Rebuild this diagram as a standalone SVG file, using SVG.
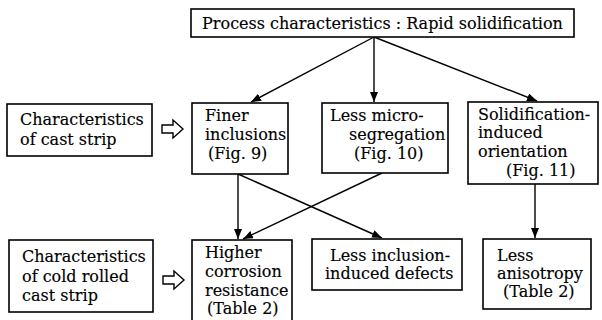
<svg xmlns="http://www.w3.org/2000/svg" width="602" height="320" viewBox="0 0 602 320">
  <style>
    .box { fill: #fff; stroke: #000; stroke-width: 1.6; }
    .t { font-family: "DejaVu Serif", "Liberation Serif", serif; font-size: 16px; fill: #000; stroke: #000; stroke-width: 0.15; }
    .c { text-anchor: middle; }
    .link { fill: none; stroke: #000; stroke-width: 1.4; marker-end: url(#tip); }
    .hollow { fill: #fff; stroke: #000; stroke-width: 1.4; stroke-linejoin: miter; }
  </style>
  <defs>
    <marker id="tip" viewBox="0 0 10 8" refX="10" refY="4" markerWidth="10" markerHeight="8" markerUnits="userSpaceOnUse" orient="auto">
      <path d="M0,0 L10,4 L0,8 Z" fill="#000"/>
    </marker>
  </defs>
  <rect width="602" height="320" fill="#fff"/>

  <g id="connectors">
    <line class="link" x1="374" y1="37" x2="251" y2="102"/>
    <line class="link" x1="374" y1="37" x2="374" y2="102"/>
    <line class="link" x1="374" y1="37" x2="537" y2="101"/>
    <line class="link" x1="238" y1="174" x2="238" y2="239"/>
    <line class="link" x1="238" y1="174" x2="382" y2="238"/>
    <line class="link" x1="382" y1="173" x2="243" y2="239"/>
    <line class="link" x1="535" y1="184" x2="535" y2="238"/>
    <path class="hollow" d="M162,125 H173 V120 L183,129 L173,138 V133 H162 Z"/>
    <path class="hollow" d="M163,276 H174 V271 L184,280 L174,289 V284 H163 Z"/>
  </g>

  <g id="process">
    <rect class="box" x="191" y="9" width="383" height="28"/>
    <text class="t c" x="382.5" y="29">Process characteristics : Rapid solidification</text>
  </g>

  <g id="cast-strip">
    <rect class="box" x="7" y="104" width="145" height="52"/>
    <text class="t" x="20" y="125">Characteristics</text>
    <text class="t" x="20" y="145">of cast strip</text>
  </g>

  <g id="finer-inclusions">
    <rect class="box" x="192" y="103" width="96" height="71"/>
    <text class="t" x="205" y="121">Finer</text>
    <text class="t" x="205" y="140">inclusions</text>
    <text class="t" x="208" y="159">(Fig. 9)</text>
  </g>

  <g id="micro-segregation">
    <rect class="box" x="322" y="103" width="126" height="70"/>
    <text class="t" x="330" y="121">Less micro-</text>
    <text class="t" x="349" y="140">segregation</text>
    <text class="t" x="354" y="159">(Fig. 10)</text>
  </g>

  <g id="orientation">
    <rect class="box" x="468" y="102" width="130" height="82"/>
    <text class="t" x="478" y="120">Solidification-</text>
    <text class="t" x="478" y="138">induced</text>
    <text class="t" x="478" y="157">orientation</text>
    <text class="t" x="506" y="176">(Fig. 11)</text>
  </g>

  <g id="cold-rolled">
    <rect class="box" x="9" y="240" width="144" height="72"/>
    <text class="t" x="22" y="262">Characteristics</text>
    <text class="t" x="22" y="282">of cold rolled</text>
    <text class="t" x="22" y="301">cast strip</text>
  </g>

  <g id="corrosion">
    <rect class="box" x="192" y="240" width="100" height="84"/>
    <text class="t" x="205" y="258">Higher</text>
    <text class="t" x="205" y="277">corrosion</text>
    <text class="t" x="205" y="296">resistance</text>
    <text class="t" x="207" y="314">(Table 2)</text>
  </g>

  <g id="defects">
    <rect class="box" x="312" y="239" width="150" height="51"/>
    <text class="t" x="330" y="261">Less inclusion-</text>
    <text class="t" x="325" y="279">induced defects</text>
  </g>

  <g id="anisotropy">
    <rect class="box" x="483" y="239" width="108" height="70"/>
    <text class="t" x="497" y="261">Less</text>
    <text class="t" x="497" y="279">anisotropy</text>
    <text class="t" x="503" y="297">(Table 2)</text>
  </g>
</svg>
